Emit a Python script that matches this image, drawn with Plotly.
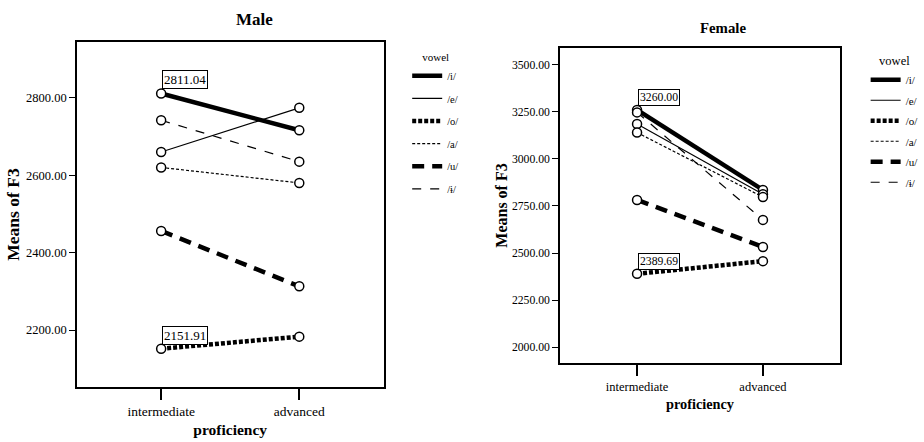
import plotly.graph_objects as go

categories = ["intermediate", "advanced"]
vowels = ["/i/", "/e/", "/o/", "/a/", "/u/", "/ɨ/"]

male_i = [2811.04, 2716]
male_e = [2660, 2774]
male_o = [2151.91, 2183]
male_a = [2620, 2580]
male_u = [2456, 2313]
male_bi = [2742, 2635]

female_i = [3260.00, 2835]
female_e = [3185, 2812]
female_o = [2389.69, 2457]
female_a = [3140, 2797]
female_u = [2782, 2532]
female_bi = [3247, 2676]

male_ticks = [2200, 2400, 2600, 2800]
female_ticks = [2000, 2250, 2500, 2750, 3000, 3250, 3500]

male_series = [male_i, male_e, male_o, male_a, male_u, male_bi]
female_series = [female_i, female_e, female_o, female_a, female_u, female_bi]

styles = [
    dict(width=4.5, dash="solid"),
    dict(width=1.2, dash="solid"),
    dict(width=4.5, dash="4px,2px"),
    dict(width=1.2, dash="3px,2px"),
    dict(width=4.5, dash="12px,8px"),
    dict(width=1.2, dash="9px,9px"),
]

FONT = "Liberation Serif"
W, H = 924, 442


def f(size):
    return dict(family=FONT, size=size, color="black")


fig = go.Figure()


def add_panel(series, xa, ya, legend_name, suffix):
    for name, vals, st in zip(vowels, series, styles):
        fig.add_trace(go.Scatter(
            x=categories, y=vals, mode="lines", xaxis=xa, yaxis=ya,
            line=dict(color="black", width=st["width"], dash=st["dash"]),
            showlegend=False, hoverinfo="skip"))
    for name, vals in zip(vowels, series):
        fig.add_trace(go.Scatter(
            x=categories, y=vals, mode="markers", xaxis=xa, yaxis=ya,
            marker=dict(symbol="circle", size=9, color="white",
                        line=dict(color="black", width=1.5)),
            showlegend=False, name=name))
    for name, st in zip(vowels, styles):
        fig.add_trace(go.Scatter(
            x=[None], y=[None], mode="lines", xaxis=xa, yaxis=ya,
            line=dict(color="black", width=st["width"], dash=st["dash"]),
            name=name, legend=legend_name, legendgroup=name + suffix,
            showlegend=True))


add_panel(male_series, "x", "y", "legend", "m")
add_panel(female_series, "x2", "y2", "legend2", "f")


def px(x):
    return x / W


def py(y):
    return 1 - y / H


axis_common = dict(showline=True, mirror=True, linecolor="black", linewidth=1.5,
                   showgrid=False, zeroline=False, ticks="outside", tickcolor="black")

fig.update_layout(
    width=W, height=H, margin=dict(l=0, r=0, t=0, b=0),
    paper_bgcolor="white", plot_bgcolor="white",
    font=dict(family=FONT, color="black"),
    xaxis=dict(domain=[px(78), px(389)], anchor="y", type="category",
               range=[-0.61, 1.61], ticklen=11, tickwidth=1.5,
               tickfont=f(13.5),
               title=dict(text="<b>proficiency</b>", font=f(15.5), standoff=6),
               **axis_common),
    yaxis=dict(domain=[py(387), py(42)], anchor="x", range=[2053, 2944],
               tickvals=male_ticks, tickformat=".2f", ticklen=6, tickwidth=1.2,
               tickfont=f(12.5),
               title=dict(text="<b>Means of F3</b>", font=f(17.5), standoff=2),
               **axis_common),
    xaxis2=dict(domain=[px(568), px(852)], anchor="y2", type="category",
                range=[-0.612, 1.612], ticklen=11, tickwidth=1.5,
                tickfont=f(12.5),
                title=dict(text="<b>proficiency</b>", font=f(14.3), standoff=6),
                **axis_common),
    yaxis2=dict(domain=[py(363), py(48)], anchor="x2", range=[1916, 3589],
                tickvals=female_ticks, tickformat=".2f", ticklen=6, tickwidth=1.2,
                tickfont=f(11.7),
                title=dict(text="<b>Means of F3</b>", font=f(16), standoff=0),
                **axis_common),
    legend=dict(x=px(413), y=py(47), xanchor="left", yanchor="top",
                bgcolor="rgba(0,0,0,0)", font=f(10.5),
                title=dict(text="vowel", side="top center", font=f(11)),
                traceorder="grouped", tracegroupgap=3.6, itemwidth=30),
    legend2=dict(x=px(878), y=py(49), xanchor="left", yanchor="top",
                 bgcolor="rgba(0,0,0,0)", font=f(11),
                 title=dict(text="vowel", side="top center", font=f(12.5)),
                 traceorder="grouped", tracegroupgap=1.5, itemwidth=30),
    showlegend=True,
)


def box_label(val, xa, ya, size):
    return dict(text=f"{val:.2f}", x=categories[0], y=val, xref=xa, yref=ya,
                showarrow=False, xanchor="left", yanchor="bottom", xshift=1, yshift=4,
                font=f(size), bordercolor="black", borderwidth=1, borderpad=1,
                bgcolor="white")


annotations = [
    dict(text="<b>Male</b>", x=px(258), y=py(20), xref="paper", yref="paper",
         showarrow=False, font=f(17), xanchor="center", yanchor="middle"),
    dict(text="<b>Female</b>", x=px(733), y=py(28), xref="paper", yref="paper",
         showarrow=False, font=f(14.8), xanchor="center", yanchor="middle"),
    box_label(male_i[0], "x", "y", 13),
    box_label(male_o[0], "x", "y", 13),
    box_label(female_i[0], "x2", "y2", 11.7),
    box_label(female_o[0], "x2", "y2", 11.7),
]
fig.update_layout(annotations=annotations)

fig.write_html("out.html")
